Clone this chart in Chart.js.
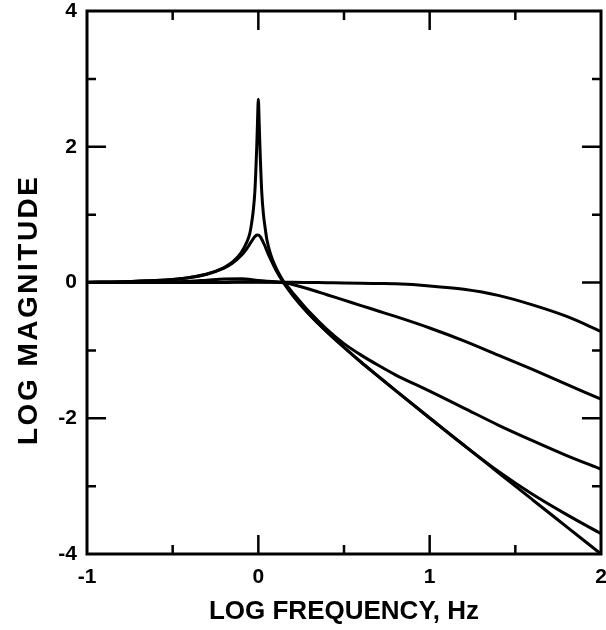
<!DOCTYPE html>
<html lang="en">
<head>
  <meta charset="UTF-8">
  <title>Log magnitude vs log frequency</title>
  <script src="https://cdn.jsdelivr.net/npm/chart.js"></script>
  <style>
    body { margin: 0; background: #fff; }
    #chart { display: block; }
  </style>
</head>
<body>

<canvas id="chart" width="606" height="630"></canvas>

<script>
  // x values (log frequency) for the two resonant curves, dense around the peak
  const freqPeak = [-1, -0.8, -0.6, -0.5, -0.4, -0.3, -0.2, -0.15, -0.1, -0.07, -0.05, -0.04, -0.03, -0.02, -0.01, -0.005,
    0, 0.005, 0.01, 0.02, 0.03, 0.04, 0.05, 0.07, 0.1, 0.15, 0.2, 0.3, 0.4, 0.5, 0.6, 0.7, 0.8, 1.0, 1.2, 1.4, 1.6, 1.8, 2.0];
  const magSharp = [0.004, 0.011, 0.028, 0.046, 0.075, 0.125, 0.221, 0.302, 0.44, 0.58, 0.72, 0.86, 1.05, 1.35, 1.95, 2.35,
    2.7, 2.35, 1.95, 1.33, 1.0, 0.8, 0.63, 0.43, 0.233, 0.002, -0.18, -0.474, -0.725, -0.954, -1.174, -1.382, -1.589, -1.996, -2.398, -2.799, -3.2, -3.6, -4.0];
  const magDamped = [0.004, 0.011, 0.028, 0.045, 0.073, 0.122, 0.211, 0.285, 0.397, 0.489, 0.565, 0.606, 0.644, 0.677, 0.698, 0.701,
    0.699, 0.692, 0.678, 0.637, 0.584, 0.53, 0.466, 0.35, 0.196, -0.015, -0.189, -0.478, -0.727, -0.955, -1.175, -1.383, -1.59, -1.996, -2.398, -2.78, -3.12, -3.42, -3.7];

  // x values for the three flatter curves
  const freqBroad = [-1, -0.6, -0.4, -0.3, -0.2, -0.1, 0, 0.1, 0.15, 0.2, 0.3, 0.4, 0.5, 0.6, 0.7, 0.8, 1.0, 1.2, 1.4, 1.6, 1.8, 2.0];
  const magLow = [0, 0.008, 0.02, 0.035, 0.05, 0.055, 0.03, 0.01, -0.01, -0.15, -0.44, -0.69, -0.9, -1.07, -1.22, -1.36, -1.6, -1.85, -2.1, -2.33, -2.55, -2.75];
  const magMid = [0, 0, 0, 0, 0.005, 0.01, 0.01, 0.005, 0, -0.03, -0.1, -0.18, -0.26, -0.34, -0.42, -0.5, -0.67, -0.86, -1.07, -1.28, -1.5, -1.72];
  const magHigh = [0, 0, 0, 0, 0, 0.005, 0.005, 0.005, 0.005, 0.003, 0, -0.003, -0.006, -0.01, -0.015, -0.02, -0.05, -0.1, -0.19, -0.33, -0.5, -0.72];

  // tick marks drawn inside the frame
  const xTickMarks = [-0.5, 0, 0.5, 1, 1.5];
  const yTickMarks = [-3, -2, -1, 0, 1, 2, 3];

  const yTitle = 'LOG MAGNITUDE';
  const fontFamily = '"Liberation Sans", Arial, sans-serif';

  const toPoints = (xs, ys) => xs.map((x, i) => ({ x: x, y: ys[i] }));

  const curve = (label, xs, ys) => ({
    label: label,
    data: toPoints(xs, ys),
    borderColor: '#000',
    borderWidth: 3,
    borderJoinStyle: 'bevel',
    pointRadius: 0,
    cubicInterpolationMode: 'monotone',
    fill: false
  });

  // frame + inward ticks on all four sides, and the y title
  const frameTicks = {
    id: 'frameTicks',
    afterDatasetsDraw(chart) {
      const { ctx, chartArea: a, scales: { x, y } } = chart;
      ctx.save();
      ctx.strokeStyle = '#000';
      ctx.lineWidth = 2.5;
      ctx.beginPath();
      xTickMarks.forEach(v => {
        const px = x.getPixelForValue(v);
        const len = Number.isInteger(v) ? 19 : 9;
        ctx.moveTo(px, a.bottom); ctx.lineTo(px, a.bottom - len);
        ctx.moveTo(px, a.top); ctx.lineTo(px, a.top + len);
      });
      yTickMarks.forEach(v => {
        const py = y.getPixelForValue(v);
        const len = v % 2 === 0 ? 19 : 9;
        ctx.moveTo(a.left, py); ctx.lineTo(a.left + len, py);
        ctx.moveTo(a.right, py); ctx.lineTo(a.right - len, py);
      });
      ctx.stroke();
      ctx.lineWidth = 3;
      ctx.strokeRect(a.left, a.top, a.right - a.left, a.bottom - a.top);

      // y title, rotated, a little wider than the x title like the print
      ctx.translate(29, 311);
      ctx.rotate(-Math.PI / 2);
      ctx.font = 'bold 28px ' + fontFamily;
      ctx.letterSpacing = '2.5px';
      ctx.fillStyle = '#000';
      ctx.textAlign = 'center';
      ctx.textBaseline = 'middle';
      ctx.fillText(yTitle, 1.25, 0);
      ctx.restore();
    }
  };

  const tickFont = { family: fontFamily, size: 21, weight: 'bold' };

  new Chart(document.getElementById('chart'), {
    type: 'line',
    data: {
      datasets: [
        curve('sharp', freqPeak, magSharp),
        curve('damped', freqPeak, magDamped),
        curve('low', freqBroad, magLow),
        curve('mid', freqBroad, magMid),
        curve('high', freqBroad, magHigh)
      ]
    },
    options: {
      responsive: false,
      animation: false,
      layout: { padding: { top: 11, right: 5, left: 0, bottom: 0 } },
      plugins: { legend: { display: false }, tooltip: { enabled: false } },
      scales: {
        x: {
          type: 'linear',
          min: -1,
          max: 2,
          afterFit: s => { s.height = 76; s.paddingLeft = 0; s.paddingRight = 0; },
          ticks: { stepSize: 1, color: '#000', font: tickFont, padding: 11 },
          grid: { display: false, drawTicks: false },
          border: { display: false },
          title: {
            display: true,
            text: 'LOG FREQUENCY, Hz',
            color: '#000',
            font: { family: fontFamily, size: 26, weight: 'bold' },
            padding: { top: 0, bottom: 3 }
          }
        },
        y: {
          min: -4,
          max: 4,
          afterFit: s => { s.width = 87; s.paddingTop = 0; s.paddingBottom = 0; },
          ticks: { stepSize: 2, color: '#000', font: tickFont, padding: 10 },
          grid: { display: false, drawTicks: false },
          border: { display: false },
          title: { display: false }
        }
      }
    },
    plugins: [frameTicks]
  });
</script>

</body>
</html>
